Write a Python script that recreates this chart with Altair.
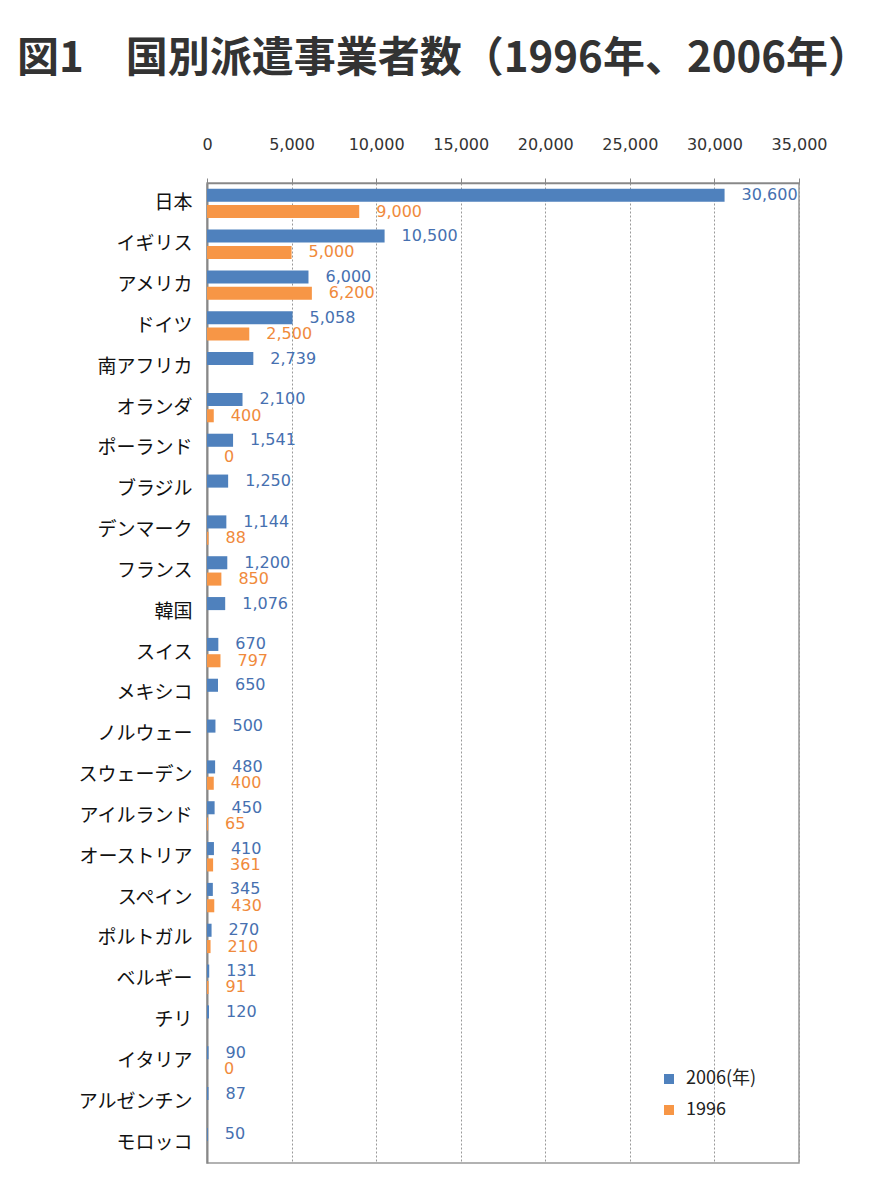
import altair as alt
import pandas as pd

countries = ["日本", "イギリス", "アメリカ", "ドイツ", "南アフリカ", "オランダ", "ポーランド",
             "ブラジル", "デンマーク", "フランス", "韓国", "スイス", "メキシコ", "ノルウェー",
             "スウェーデン", "アイルランド", "オーストリア", "スペイン", "ポルトガル", "ベルギー",
             "チリ", "イタリア", "アルゼンチン", "モロッコ"]
v2006 = [30600, 10500, 6000, 5058, 2739, 2100, 1541, 1250, 1144, 1200, 1076, 670, 650, 500,
         480, 450, 410, 345, 270, 131, 120, 90, 87, 50]
v1996 = [9000, 5000, 6200, 2500, None, 400, 0, None, 88, 850, None, 797, None, None,
         400, 65, 361, 430, 210, 91, None, 0, None, None]
series_names = ["2006(年)", "1996"]
x_ticks = [0, 5000, 10000, 15000, 20000, 25000, 30000, 35000]

BLUE = "#4F81BD"
ORANGE = "#F79646"

rows = []
for c, a, b in zip(countries, v2006, v1996):
    rows.append({"country": c, "series": series_names[0], "value": a, "label": f"{a:,}"})
    if b is not None:
        rows.append({"country": c, "series": series_names[1], "value": b, "label": f"{b:,}"})
df = pd.DataFrame(rows)

y_enc = alt.Y(
    "country:N", sort=countries,
    scale=alt.Scale(paddingInner=0.28, paddingOuter=0.14),
    axis=alt.Axis(title=None, ticks=False, labelFont="Noto Sans CJK JP", labelFontSize=19,
                  labelColor="#111", labelPadding=15, domainColor="#888", domainWidth=2,
                  grid=False),
)
yoff_enc = alt.YOffset("series:N", sort=series_names, scale=alt.Scale(paddingInner=0.2))
x_enc = alt.X(
    "value:Q", scale=alt.Scale(domain=[0, 35000], nice=False),
    axis=alt.Axis(orient="top", values=x_ticks, format=",.0f", title=None, tickSize=5,
                  tickColor="#888", domainColor="#888", domainWidth=1.5, labelPadding=26,
                  labelFlush=False, labelOverlap=False,
                  labelFont="DejaVu Sans", labelFontSize=16, labelColor="#333",
                  grid=True, gridDash=[2, 2], gridColor="#999"),
)

bars = alt.Chart(df).mark_bar().encode(
    x=x_enc, y=y_enc, yOffset=yoff_enc,
    color=alt.Color("series:N", sort=series_names,
                    scale=alt.Scale(domain=series_names, range=[BLUE, ORANGE]),
                    legend=alt.Legend(title=None, orient="none", legendX=453, legendY=887,
                                      symbolType="square", symbolSize=100,
                                      labelFont="Noto Sans CJK JP", labelFontSize=18,
                                      labelColor="#222", rowPadding=13, labelOffset=8)),
)

labels = alt.Chart(df).mark_text(align="left", baseline="middle", dx=17,
                                 font="DejaVu Sans", fontSize=16).encode(
    x=alt.X("value:Q"), y=alt.Y("country:N", sort=countries), yOffset=yoff_enc,
    text="label:N",
    color=alt.condition(alt.datum.series == "1996", alt.value("#F08A3C"), alt.value("#4670B0")),
)

chart = alt.layer(bars, labels).properties(
    width=592, height=980,
    autosize=alt.AutoSizeParams(type="none"),
    padding={"left": 199, "top": 175, "right": 84, "bottom": 20},
    title=alt.TitleParams("図1　国別派遣事業者数（1996年、2006年）", anchor="start", frame="group",
                          font="Noto Sans CJK JP", fontSize=42, fontWeight="bold",
                          color="#333", dx=-190, offset=55),
).configure_view(stroke="#999", strokeWidth=1.5)

chart.save("out.html", embed_options={"renderer": "svg", "actions": False})
